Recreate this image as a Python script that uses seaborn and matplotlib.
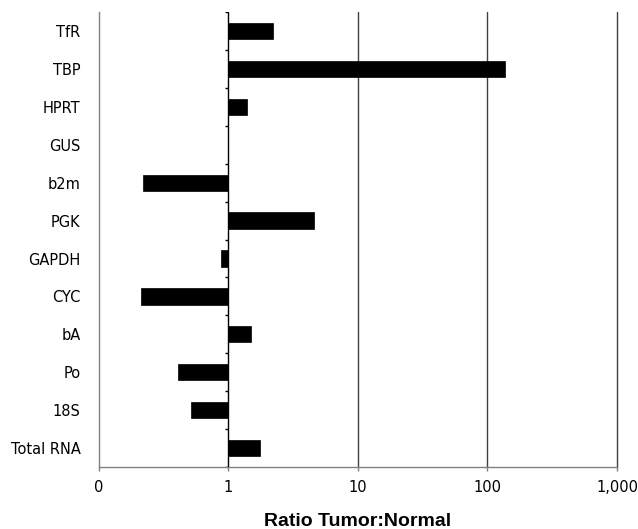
import numpy as np
import pandas as pd
import matplotlib
matplotlib.use("Agg")
import matplotlib.pyplot as plt
import seaborn as sns

genes = ["TfR", "TBP", "HPRT", "GUS", "b2m", "PGK", "GAPDH", "CYC", "bA", "Po", "18S", "Total RNA"]
ratios = [2.23, 137.0, 1.40, 1.0, 0.22, 4.56, 0.88, 0.214, 1.51, 0.41, 0.515, 1.75]
tick_values = [0.1, 1, 10, 100, 1000]
tick_labels = ["0", "1", "10", "100", "1,000"]

sns.set_theme(style="white")
plt.rcParams["font.family"] = ["DejaVu Sans"]
plt.rcParams["text.color"] = "black"
plt.rcParams["xtick.color"] = "black"
plt.rcParams["ytick.color"] = "black"
plt.rcParams["axes.labelcolor"] = "black"

df = pd.DataFrame({"gene": genes, "log_ratio": np.log10(ratios)})

fig = plt.figure(figsize=(6.38, 5.29), dpi=100)
ax = fig.add_axes([0.1544, 0.1172, 0.8126, 0.8598])

sns.barplot(data=df, x="log_ratio", y="gene", orient="h", color="black",
            saturation=1, width=0.43, ax=ax, edgecolor="black", linewidth=0.5)

lo, hi = np.log10(tick_values[0]), np.log10(tick_values[-1])
ax.set_xlim(lo, hi)
ax.set_ylim(len(genes) - 0.5, -0.5)

# gridlines at decades above 1
for tv in tick_values[2:]:
    ax.axvline(np.log10(tv), color="#404040", lw=1.0, zorder=0, clip_on=False)
# category axis crossing at ratio 1
ax.axvline(0, color="black", lw=1.0, zorder=3)
ax.hlines(np.arange(-0.5, len(genes)), -0.025, 0, color="black", lw=1.0, zorder=3)

ax.set_xticks(np.log10(tick_values))
ax.set_xticklabels(tick_labels)
ax.tick_params(axis="x", length=3, width=1, color="#808080", labelcolor="black",
               direction="out", pad=6, labelsize=10.5, bottom=True)
ax.tick_params(axis="y", length=0, pad=13, labelsize=10.5, labelcolor="black")

for s in ["top", "right"]:
    ax.spines[s].set_visible(False)
for s in ["left", "bottom"]:
    ax.spines[s].set_color("#808080")
    ax.spines[s].set_linewidth(1.0)

ax.set_ylabel("")
ax.set_xlabel("Ratio Tumor:Normal", fontsize=14, fontweight="bold",
              family=["Liberation Sans"], labelpad=13, color="black")

fig.savefig("out.png", dpi=100)
